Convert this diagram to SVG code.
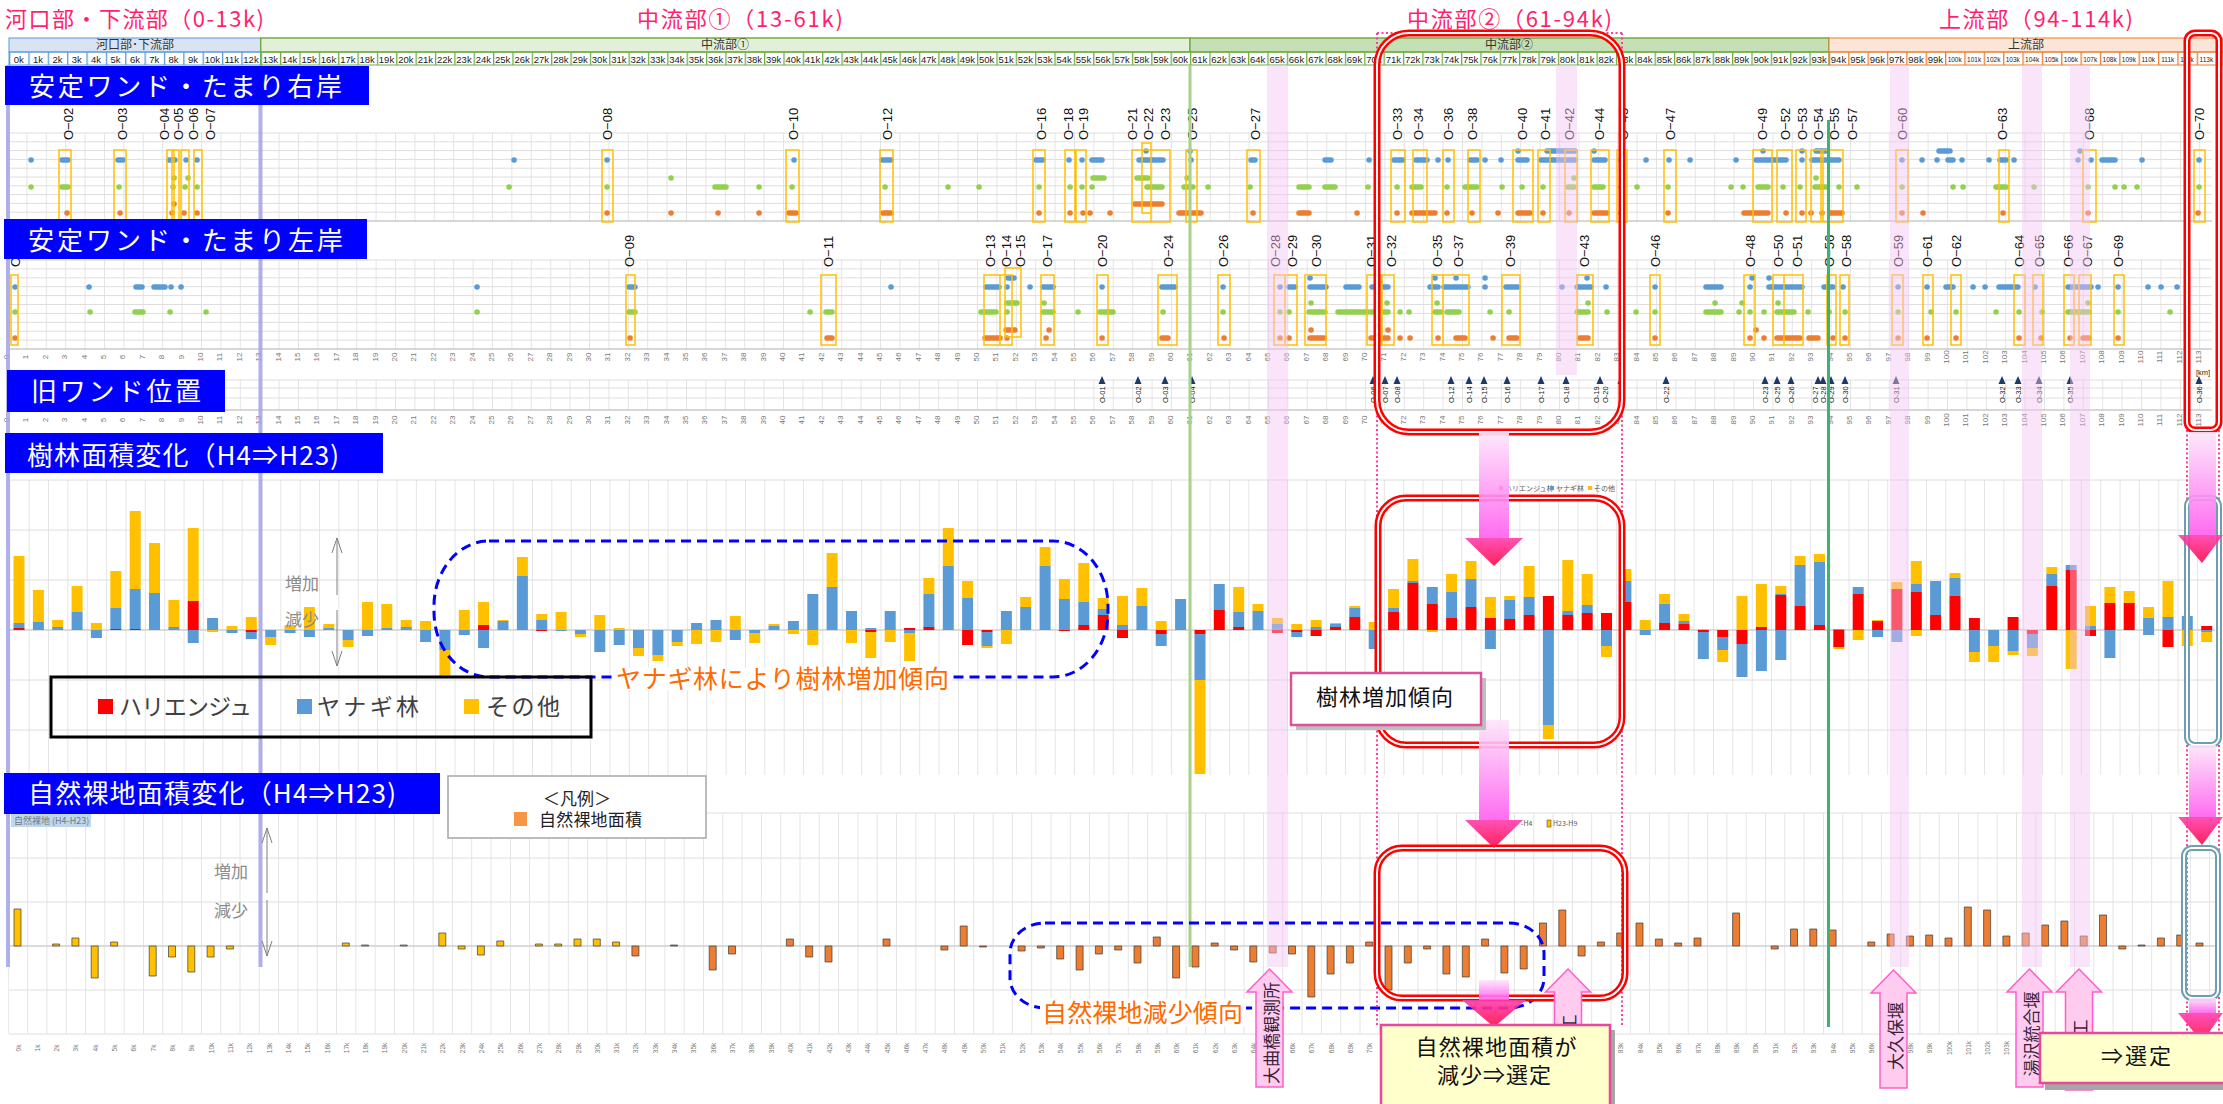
<svg xmlns="http://www.w3.org/2000/svg" xmlns:xlink="http://www.w3.org/1999/xlink" width="2223" height="1104" viewBox="0 0 2223 1104">
<style>
.j{font-family:"Noto Sans CJK JP","Noto Sans",sans-serif}
.ti{font-size:22px;fill:#ff1f6e}
.bl{font-size:26px;fill:#fff}
.sec{font-size:12px;fill:#333;text-anchor:middle}
.kl{font-family:"Liberation Sans",sans-serif;font-size:9.5px;fill:#222;text-anchor:middle}
.ks{font-family:"Liberation Sans",sans-serif;font-size:6.5px;fill:#222;text-anchor:middle}
.ol{font-family:"Liberation Sans",sans-serif;font-size:13px;fill:#111}
.o3{font-family:"Liberation Sans",sans-serif;font-size:7.5px;fill:#222}
.n3{font-family:"Liberation Sans",sans-serif;font-size:8px;fill:#777;text-anchor:middle}
.n5{font-family:"Liberation Sans",sans-serif;font-size:6.5px;fill:#777;text-anchor:middle}
.gr{fill:none;stroke:#dedede;stroke-width:1}
.ax{fill:none;stroke:#b0b0b0;stroke-width:1.2}
.dot{fill:none;stroke-linecap:round;stroke-width:5.5}
.box{fill:none;stroke:#ffc000;stroke-width:1.5}
.ud{font-size:17px;fill:#8c8c8c}
.arr{fill:none;stroke:#808080;stroke-width:1}
.band{fill:#f5c4f2;opacity:.45}
.dash{fill:none;stroke:#00f;stroke-width:3;stroke-dasharray:10 6}
.pdot{fill:none;stroke:#ff3d9a;stroke-width:2;stroke-dasharray:2 2.5}
.up{fill:#ffccf0;stroke:#ff5fc8;stroke-width:1.5}
.upt{font-size:17px;fill:#3a1f3a;text-anchor:middle}
.call{font-size:22px;fill:#111;text-anchor:middle}
</style>
<defs>
<pattern id="hb" x="9" y="0" width="19.36" height="20" patternUnits="userSpaceOnUse"><rect width="1.3" height="20" fill="#5b9bd5"/></pattern>
<pattern id="hg" x="9" y="0" width="19.36" height="20" patternUnits="userSpaceOnUse"><rect width="1.3" height="20" fill="#70ad47"/></pattern>
<pattern id="ho" x="9" y="0" width="19.36" height="20" patternUnits="userSpaceOnUse"><rect width="1.3" height="20" fill="#ed7d31"/></pattern>
<pattern id="g12" x="7" y="0" width="19.4" height="20" patternUnits="userSpaceOnUse"><rect width="1" height="20" fill="#e4e4e4"/></pattern>
<pattern id="g4" x="9.3" y="0" width="19.36" height="20" patternUnits="userSpaceOnUse"><rect width="1" height="20" fill="#e4e4e4"/></pattern>
<pattern id="g5" x="7.8" y="0" width="19.31" height="20" patternUnits="userSpaceOnUse"><rect width="1" height="20" fill="#e4e4e4"/></pattern>
<linearGradient id="gs" x1="0" y1="0" x2="0" y2="1"><stop offset="0" stop-color="#fde6fb"/><stop offset="1" stop-color="#ff5ef0"/></linearGradient>
<linearGradient id="gh" x1="0" y1="0" x2="0" y2="1"><stop offset="0" stop-color="#ff3fb0"/><stop offset="1" stop-color="#ff0a48"/></linearGradient>
<rect id="rA" x="1377" y="33" width="245" height="399" rx="32"/>
<rect id="rB" x="1378" y="498" width="244" height="247" rx="28"/>
<rect id="rC" x="1377" y="848" width="248" height="150" rx="25"/>
<rect id="rD" x="2187" y="33" width="32" height="397" rx="8"/>
<rect id="rE" x="2187" y="498" width="32" height="247" rx="8"/>
<rect id="rF" x="2184" y="848" width="34" height="150" rx="8"/>
</defs>
<rect width="2223" height="1104" fill="#fff"/>

<g id="titles" class="j">
<text class="ti" x="5" y="27" textLength="259">河口部・下流部（0-13k)</text>
<text class="ti" x="637" y="27" textLength="206">中流部①（13-61k)</text>
<text class="ti" x="1407" y="27" textLength="205">中流部②（61-94k)</text>
<text class="ti" x="1939" y="27" textLength="194">上流部（94-114k)</text>
</g>

<g id="header">
<rect x="9" y="38" width="251.7" height="14" fill="#dae3f3" stroke="#5b9bd5"/>
<rect x="260.7" y="38" width="929.3" height="14" fill="#e2f0d9" stroke="#70ad47" stroke-width="1.5"/>
<rect x="1190" y="38" width="639" height="14" fill="#c5e0b4" stroke="#70ad47" stroke-width="1.5"/>
<rect x="1829" y="38" width="394" height="14" fill="#fbe5d6" stroke="#ed7d31"/>
<rect x="9" y="52" width="251.7" height="13" fill="url(#hb)" stroke="#5b9bd5"/>
<rect x="260.7" y="52" width="1568.3" height="13" fill="url(#hg)" stroke="#70ad47"/>
<rect x="1829" y="52" width="394" height="13" fill="url(#ho)" stroke="#ed7d31"/>
<g class="j"><text class="sec" x="135" y="49">河口部･下流部</text><text class="sec" x="725" y="49">中流部①</text><text class="sec" x="1509" y="49">中流部②</text><text class="sec" x="2026" y="49">上流部</text></g>
<text class="kl" y="62.5"><tspan x="18.7">0k</tspan><tspan x="38.1">1k</tspan><tspan x="57.4">2k</tspan><tspan x="76.8">3k</tspan><tspan x="96.1">4k</tspan><tspan x="115.5">5k</tspan><tspan x="134.9">6k</tspan><tspan x="154.2">7k</tspan><tspan x="173.6">8k</tspan><tspan x="192.9">9k</tspan><tspan x="212.3">10k</tspan><tspan x="231.7">11k</tspan><tspan x="251">12k</tspan><tspan x="270.4">13k</tspan><tspan x="289.7">14k</tspan><tspan x="309.1">15k</tspan><tspan x="328.5">16k</tspan><tspan x="347.8">17k</tspan><tspan x="367.2">18k</tspan><tspan x="386.5">19k</tspan><tspan x="405.9">20k</tspan><tspan x="425.3">21k</tspan><tspan x="444.6">22k</tspan><tspan x="464">23k</tspan><tspan x="483.3">24k</tspan><tspan x="502.7">25k</tspan><tspan x="522.1">26k</tspan><tspan x="541.4">27k</tspan><tspan x="560.8">28k</tspan><tspan x="580.1">29k</tspan><tspan x="599.5">30k</tspan><tspan x="618.9">31k</tspan><tspan x="638.2">32k</tspan><tspan x="657.6">33k</tspan><tspan x="676.9">34k</tspan><tspan x="696.3">35k</tspan><tspan x="715.7">36k</tspan><tspan x="735">37k</tspan><tspan x="754.4">38k</tspan><tspan x="773.7">39k</tspan><tspan x="793.1">40k</tspan><tspan x="812.5">41k</tspan><tspan x="831.8">42k</tspan><tspan x="851.2">43k</tspan><tspan x="870.5">44k</tspan><tspan x="889.9">45k</tspan><tspan x="909.3">46k</tspan><tspan x="928.6">47k</tspan><tspan x="948">48k</tspan><tspan x="967.3">49k</tspan><tspan x="986.7">50k</tspan><tspan x="1006.1">51k</tspan><tspan x="1025.4">52k</tspan><tspan x="1044.8">53k</tspan><tspan x="1064.1">54k</tspan><tspan x="1083.5">55k</tspan><tspan x="1102.9">56k</tspan><tspan x="1122.2">57k</tspan><tspan x="1141.6">58k</tspan><tspan x="1160.9">59k</tspan><tspan x="1180.3">60k</tspan><tspan x="1199.7">61k</tspan><tspan x="1219">62k</tspan><tspan x="1238.4">63k</tspan><tspan x="1257.7">64k</tspan><tspan x="1277.1">65k</tspan><tspan x="1296.5">66k</tspan><tspan x="1315.8">67k</tspan><tspan x="1335.2">68k</tspan><tspan x="1354.5">69k</tspan><tspan x="1373.9">70k</tspan><tspan x="1393.3">71k</tspan><tspan x="1412.6">72k</tspan><tspan x="1432">73k</tspan><tspan x="1451.3">74k</tspan><tspan x="1470.7">75k</tspan><tspan x="1490.1">76k</tspan><tspan x="1509.4">77k</tspan><tspan x="1528.8">78k</tspan><tspan x="1548.1">79k</tspan><tspan x="1567.5">80k</tspan><tspan x="1586.9">81k</tspan><tspan x="1606.2">82k</tspan><tspan x="1625.6">83k</tspan><tspan x="1644.9">84k</tspan><tspan x="1664.3">85k</tspan><tspan x="1683.7">86k</tspan><tspan x="1703">87k</tspan><tspan x="1722.4">88k</tspan><tspan x="1741.7">89k</tspan><tspan x="1761.1">90k</tspan><tspan x="1780.5">91k</tspan><tspan x="1799.8">92k</tspan><tspan x="1819.2">93k</tspan><tspan x="1838.5">94k</tspan><tspan x="1857.9">95k</tspan><tspan x="1877.3">96k</tspan><tspan x="1896.6">97k</tspan><tspan x="1916">98k</tspan><tspan x="1935.3">99k</tspan></text>
<text class="ks" y="61.5"><tspan x="1954.7">100k</tspan><tspan x="1974.1">101k</tspan><tspan x="1993.4">102k</tspan><tspan x="2012.8">103k</tspan><tspan x="2032.1">104k</tspan><tspan x="2051.5">105k</tspan><tspan x="2070.9">106k</tspan><tspan x="2090.2">107k</tspan><tspan x="2109.6">108k</tspan><tspan x="2128.9">109k</tspan><tspan x="2148.3">110k</tspan><tspan x="2167.7">111k</tspan><tspan x="2187">112k</tspan><tspan x="2206.4">113k</tspan></text>
</g>

<g id="grids">
<rect x="7" y="133" width="2205" height="88" fill="url(#g12)"/>
<path class="gr" d="M9 133H2212M9 141.8H2212M9 150.6H2212M9 159.4H2212M9 168.2H2212M9 177H2212M9 185.8H2212M9 194.6H2212M9 203.4H2212M9 212.2H2212"/>
<path class="ax" d="M9 221H2212"/>
<rect x="7" y="260" width="2205" height="89" fill="url(#g12)"/>
<path class="gr" d="M9 260H2212M9 268.9H2212M9 277.8H2212M9 286.7H2212M9 295.6H2212M9 304.5H2212M9 313.4H2212M9 322.3H2212M9 331.2H2212M9 340.1H2212"/>
<path class="ax" d="M9 349H2212"/>
<rect x="7" y="380" width="2205" height="30" fill="url(#g12)"/>
<path class="gr" d="M9 380H2212M9 388H2212M9 398H2212"/>
<path class="ax" d="M9 410H2212"/>
<rect x="9.3" y="480" width="2205" height="295" fill="url(#g4)"/>
<path class="gr" d="M9 480H2215M9 530H2215M9 580H2215M9 680H2215M9 730H2215"/>
<path d="M9 630H2215" stroke="#cfcfcf" stroke-width="1.5"/>
<rect x="7.8" y="813" width="2210" height="221" fill="url(#g5)"/>
<path class="gr" d="M706 813H2218M9 858H2218M9 902H2218M9 990H2218M9 1034H2218"/>
<path d="M9 946H2218" stroke="#cfcfcf" stroke-width="1.5"/>
</g>

<g id="panel3-axis">
<g id="n3r" transform="rotate(-90)"><text class="n3" dominant-baseline="central"><tspan x="-357" y="6">0</tspan><tspan x="-357" y="25.4">1</tspan><tspan x="-357" y="44.8">2</tspan><tspan x="-357" y="64.2">3</tspan><tspan x="-357" y="83.6">4</tspan><tspan x="-357" y="103">5</tspan><tspan x="-357" y="122.4">6</tspan><tspan x="-357" y="141.8">7</tspan><tspan x="-357" y="161.2">8</tspan><tspan x="-357" y="180.6">9</tspan><tspan x="-357" y="200">10</tspan><tspan x="-357" y="219.4">11</tspan><tspan x="-357" y="238.8">12</tspan><tspan x="-357" y="258.2">13</tspan><tspan x="-357" y="277.6">14</tspan><tspan x="-357" y="297">15</tspan><tspan x="-357" y="316.4">16</tspan><tspan x="-357" y="335.8">17</tspan><tspan x="-357" y="355.2">18</tspan><tspan x="-357" y="374.6">19</tspan><tspan x="-357" y="394">20</tspan><tspan x="-357" y="413.4">21</tspan><tspan x="-357" y="432.8">22</tspan><tspan x="-357" y="452.2">23</tspan><tspan x="-357" y="471.6">24</tspan><tspan x="-357" y="491">25</tspan><tspan x="-357" y="510.4">26</tspan><tspan x="-357" y="529.8">27</tspan><tspan x="-357" y="549.2">28</tspan><tspan x="-357" y="568.6">29</tspan><tspan x="-357" y="588">30</tspan><tspan x="-357" y="607.4">31</tspan><tspan x="-357" y="626.8">32</tspan><tspan x="-357" y="646.2">33</tspan><tspan x="-357" y="665.6">34</tspan><tspan x="-357" y="685">35</tspan><tspan x="-357" y="704.4">36</tspan><tspan x="-357" y="723.8">37</tspan><tspan x="-357" y="743.2">38</tspan><tspan x="-357" y="762.6">39</tspan><tspan x="-357" y="782">40</tspan><tspan x="-357" y="801.4">41</tspan><tspan x="-357" y="820.8">42</tspan><tspan x="-357" y="840.2">43</tspan><tspan x="-357" y="859.6">44</tspan><tspan x="-357" y="879">45</tspan><tspan x="-357" y="898.4">46</tspan><tspan x="-357" y="917.8">47</tspan><tspan x="-357" y="937.2">48</tspan><tspan x="-357" y="956.6">49</tspan><tspan x="-357" y="976">50</tspan><tspan x="-357" y="995.4">51</tspan><tspan x="-357" y="1014.8">52</tspan><tspan x="-357" y="1034.2">53</tspan><tspan x="-357" y="1053.6">54</tspan><tspan x="-357" y="1073">55</tspan><tspan x="-357" y="1092.4">56</tspan><tspan x="-357" y="1111.8">57</tspan><tspan x="-357" y="1131.2">58</tspan><tspan x="-357" y="1150.6">59</tspan><tspan x="-357" y="1170">60</tspan><tspan x="-357" y="1189.4">61</tspan><tspan x="-357" y="1208.8">62</tspan><tspan x="-357" y="1228.2">63</tspan><tspan x="-357" y="1247.6">64</tspan><tspan x="-357" y="1267">65</tspan><tspan x="-357" y="1286.4">66</tspan><tspan x="-357" y="1305.8">67</tspan><tspan x="-357" y="1325.2">68</tspan><tspan x="-357" y="1344.6">69</tspan><tspan x="-357" y="1364">70</tspan><tspan x="-357" y="1383.4">71</tspan><tspan x="-357" y="1402.8">72</tspan><tspan x="-357" y="1422.2">73</tspan><tspan x="-357" y="1441.6">74</tspan><tspan x="-357" y="1461">75</tspan><tspan x="-357" y="1480.4">76</tspan><tspan x="-357" y="1499.8">77</tspan><tspan x="-357" y="1519.2">78</tspan><tspan x="-357" y="1538.6">79</tspan><tspan x="-357" y="1558">80</tspan><tspan x="-357" y="1577.4">81</tspan><tspan x="-357" y="1596.8">82</tspan><tspan x="-357" y="1616.2">83</tspan><tspan x="-357" y="1635.6">84</tspan><tspan x="-357" y="1655">85</tspan><tspan x="-357" y="1674.4">86</tspan><tspan x="-357" y="1693.8">87</tspan><tspan x="-357" y="1713.2">88</tspan><tspan x="-357" y="1732.6">89</tspan><tspan x="-357" y="1752">90</tspan><tspan x="-357" y="1771.4">91</tspan><tspan x="-357" y="1790.8">92</tspan><tspan x="-357" y="1810.2">93</tspan><tspan x="-357" y="1829.6">94</tspan><tspan x="-357" y="1849">95</tspan><tspan x="-357" y="1868.4">96</tspan><tspan x="-357" y="1887.8">97</tspan><tspan x="-357" y="1907.2">98</tspan><tspan x="-357" y="1926.6">99</tspan><tspan x="-357" y="1946">100</tspan><tspan x="-357" y="1965.4">101</tspan><tspan x="-357" y="1984.8">102</tspan><tspan x="-357" y="2004.2">103</tspan><tspan x="-357" y="2023.6">104</tspan><tspan x="-357" y="2043">105</tspan><tspan x="-357" y="2062.4">106</tspan><tspan x="-357" y="2081.8">107</tspan><tspan x="-357" y="2101.2">108</tspan><tspan x="-357" y="2120.6">109</tspan><tspan x="-357" y="2140">110</tspan><tspan x="-357" y="2159.4">111</tspan><tspan x="-357" y="2178.8">112</tspan><tspan x="-357" y="2198.2">113</tspan></text></g>
<use xlink:href="#n3r" href="#n3r" transform="translate(0,63)"/>
<text class="o3" x="2196" y="375">[km]</text>
</g>

<g id="panel1-dots">
<path class="dot" stroke="#5b9bd5" d="M31 160h.1M62 160H68M118 160H123M169 160H175M186 160h.1M197 160h.1M514 160h.1M607 160h.1M794 160h.1M882 160H891M1036 160H1043M1069 160h.1M1082 160h.1M1092 160H1102M1139 160H1163M1191 160h.1M1251 160H1255M1325 160H1331M1369 160h.1M1394 160H1403M1416 160H1427M1438 160h.1M1448 160h.1M1470 160H1477M1485 160h.1M1501 160h.1M1518 160H1527M1541 160H1575M1594 160H1605M1621 160h.1M1646 160h.1M1669 160h.1M1690 160h.1M1736 160h.1M1756 160H1786M1802 160h.1M1812 160H1839M1902 160h.1M1922 160h.1M1937 160h.1M1948 160H1953M1962 160h.1M1989 160h.1M2000 160H2006M2014 160h.1M2078 160h.1M2091 160h.1M2102 160H2115M2142 160h.1M2199 160h.1M1146 151h.1M1190 151h.1M1518 151h.1M1547 151H1575M1594 151h.1M1763 151h.1M1802 151h.1M1816 151H1826M1939 151H1950M2080 151h.1"/>
<path class="dot" stroke="#92d050" d="M31 187h.1M62 187H68M119 187h.1M173 187h.1M185 187h.1M197 187h.1M509 187h.1M607 187h.1M715 187H726M759 187h.1M792 187h.1M885 187h.1M948 187h.1M979 187h.1M1039 187h.1M1070 187h.1M1082 187h.1M1092 187h.1M1147 187H1162M1184 187H1193M1208 187h.1M1250 187h.1M1299 187H1309M1325 187H1335M1368 187h.1M1397 187h.1M1412 187H1421M1447 187h.1M1465 187H1477M1502 187h.1M1522 187h.1M1543 187h.1M1568 187H1574M1594 187H1603M1621 187h.1M1637 187h.1M1668 187h.1M1731 187h.1M1743 187h.1M1758 187H1768M1783 187h.1M1800 187h.1M1815 187H1826M1839 187h.1M1857 187h.1M1902 187h.1M1953 187h.1M1963 187h.1M1996 187H2006M2034 187h.1M2088 187h.1M2115 187h.1M2124 187h.1M2137 187h.1M2199 187h.1M174 178h.1M188 178h.1M671 178h.1M1093 178H1104M1137 178H1148M1187 178h.1M1574 178h.1M1816 178h.1"/>
<path class="dot" stroke="#ed7d31" d="M67 213h.1M120 213h.1M172 213h.1M184 213h.1M197 213h.1M607 213h.1M671 213h.1M718 213h.1M759 213h.1M789 213H796M883 213H891M1039 213h.1M1070 213h.1M1083 213h.1M1090 213h.1M1110 213h.1M1179 213H1201M1253 213h.1M1299 213H1309M1357 213h.1M1397 213h.1M1412 213H1435M1447 213h.1M1472 213h.1M1498 213h.1M1518 213H1530M1543 213h.1M1569 213h.1M1594 213H1607M1621 213h.1M1668 213h.1M1744 213H1768M1786 213h.1M1802 213h.1M1811 213h.1M1822 213h.1M1830 213H1842M1902 213h.1M1923 213h.1M2003 213h.1M2088 213h.1M2198 213h.1M174 204h.1M1135 204H1162"/>
<path class="box" d="M59 150H71V222H59ZM114 150H126V222H114ZM167 150H174V222H167ZM172 150H179V222H172ZM181 150H189V222H181ZM194 150H202V222H194ZM602 150H613V222H602ZM786 150H799V222H786ZM880 150H893V222H880ZM1033 150H1045V222H1033ZM1065 150H1075V222H1065ZM1076 150H1086V222H1076ZM1132 150H1151V222H1132ZM1142 143H1151V213H1142ZM1151 150H1170V222H1151ZM1186 150H1197V222H1186ZM1247 150H1260V222H1247ZM1391 150H1405V222H1391ZM1413 150H1427V222H1413ZM1443 150H1454V222H1443ZM1468 150H1480V222H1468ZM1513 150H1533V222H1513ZM1538 150H1550V222H1538ZM1565 150H1577V222H1565ZM1591 150H1609V222H1591ZM1617 150H1627V222H1617ZM1664 150H1676V222H1664ZM1753 150H1772V222H1753ZM1777 150H1792V222H1777ZM1796 150H1806V222H1796ZM1811 150H1821V222H1811ZM1823 150H1843V222H1823ZM1896 150H1908V222H1896ZM1999 150H2009V222H1999ZM2083 150H2096V222H2083ZM2194 150H2205V222H2194Z"/>
<g transform="rotate(-90)"><text class="ol" dominant-baseline="central"><tspan x="-140" y="68">O−02</tspan><tspan x="-140" y="122">O−03</tspan><tspan x="-140" y="164">O−04</tspan><tspan x="-140" y="178">O−05</tspan><tspan x="-140" y="193">O−06</tspan><tspan x="-140" y="210">O−07</tspan><tspan x="-140" y="607">O−08</tspan><tspan x="-140" y="793">O−10</tspan><tspan x="-140" y="887">O−12</tspan><tspan x="-140" y="1041">O−16</tspan><tspan x="-140" y="1068">O−18</tspan><tspan x="-140" y="1083">O−19</tspan><tspan x="-140" y="1132">O−21</tspan><tspan x="-140" y="1148">O−22</tspan><tspan x="-140" y="1165">O−23</tspan><tspan x="-140" y="1192">O−25</tspan><tspan x="-140" y="1255">O−27</tspan><tspan x="-140" y="1397">O−33</tspan><tspan x="-140" y="1418">O−34</tspan><tspan x="-140" y="1448">O−36</tspan><tspan x="-140" y="1472">O−38</tspan><tspan x="-140" y="1522">O−40</tspan><tspan x="-140" y="1545">O−41</tspan><tspan x="-140" y="1569">O−42</tspan><tspan x="-140" y="1599">O−44</tspan><tspan x="-140" y="1623">O−45</tspan><tspan x="-140" y="1670">O−47</tspan><tspan x="-140" y="1762">O−49</tspan><tspan x="-140" y="1785">O−52</tspan><tspan x="-140" y="1802">O−53</tspan><tspan x="-140" y="1818">O−54</tspan><tspan x="-140" y="1834">O−55</tspan><tspan x="-140" y="1852">O−57</tspan><tspan x="-140" y="1902">O−60</tspan><tspan x="-140" y="2002">O−63</tspan><tspan x="-140" y="2089">O−68</tspan><tspan x="-140" y="2199">O−70</tspan></text></g>
</g>

<g id="panel2-dots">
<path class="dot" stroke="#5b9bd5" d="M15 287h.1M89 287h.1M136 287H142M154 287H165M171 287h.1M181 287h.1M477 287h.1M629 287H635M891 287h.1M986 287H999M1007 287h.1M1030 287h.1M1043 287H1053M1102 287h.1M1162 287H1175M1223 287h.1M1280 287h.1M1289 287H1295M1310 287H1326M1346 287H1359M1372 287H1388M1430 287H1438M1444 287H1468M1485 287h.1M1506 287H1518M1562 287h.1M1577 287H1591M1606 287h.1M1655 287h.1M1706 287H1721M1750 287h.1M1769 287H1802M1824 287H1833M1843 287h.1M1898 287h.1M1927 287h.1M1946 287H1953M1973 287h.1M1985 287h.1M1999 287H2018M2035 287h.1M2068 287H2091M2098 287h.1M2118 287h.1M2148 287h.1M2161 287h.1M2177 287h.1M1008 278H1014M1310 278h.1M1378 278h.1M1435 278h.1M1456 278h.1M1485 278h.1M1587 278h.1M1752 278h.1M1769 278h.1"/>
<path class="dot" stroke="#92d050" d="M15 312h.1M90 312h.1M135 312H143M170 312h.1M206 312h.1M477 312h.1M629 312H635M810 312h.1M826 312H832M981 312H996M1007 312h.1M1043 312H1053M1078 312h.1M1100 312H1113M1163 312h.1M1223 312h.1M1280 312h.1M1289 312h.1M1309 312H1325M1338 312H1368M1371 312H1388M1400 312h.1M1409 312h.1M1435 312H1441M1447 312H1459M1490 312h.1M1509 312h.1M1577 312H1588M1607 312h.1M1636 312h.1M1655 312h.1M1706 312H1721M1739 312h.1M1750 312h.1M1764 312h.1M1777 312H1794M1808 312h.1M1829 312h.1M1845 312h.1M1898 312h.1M1931 312h.1M1956 312h.1M1996 312h.1M2019 312h.1M2042 312h.1M2068 312H2089M2118 312h.1M2170 312h.1M1007 303H1017M1044 303h.1M1311 303h.1M1387 303h.1M1437 303h.1M1588 303h.1M1715 303h.1M1742 303h.1M1778 303h.1M2088 303h.1"/>
<path class="dot" stroke="#ed7d31" d="M15 338h.1M630 338h.1M827 338H832M985 338H1000M1007 338h.1M1046 338h.1M1102 338h.1M1162 338H1168M1224 338h.1M1280 338h.1M1289 338h.1M1310 338H1324M1371 338H1388M1400 338h.1M1410 338h.1M1438 338h.1M1456 338H1465M1493 338h.1M1509 338H1517M1580 338H1588M1655 338h.1M1750 338h.1M1764 338h.1M1777 338H1800M1809 338H1818M1833 338h.1M1845 338h.1M1898 338h.1M1927 338h.1M1956 338h.1M2019 338h.1M2041 338h.1M2070 338h.1M2083 338H2089M2118 338h.1M1006 330H1015M1049 330h.1M1311 330h.1M1388 330h.1M1756 330h.1"/>
<path class="box" d="M11 275H18V345H11ZM626 275H635V345H626ZM821 275H836V345H821ZM984 275H1000V345H984ZM1000 275H1012V345H1000ZM1005 268H1021V337H1005ZM1041 275H1054V345H1041ZM1097 275H1108V345H1097ZM1158 275H1177V345H1158ZM1218 275H1230V345H1218ZM1274 275H1285V345H1274ZM1285 275H1297V345H1285ZM1305 275H1326V345H1305ZM1367 275H1382V345H1367ZM1381 275H1394V345H1381ZM1432 275H1443V345H1432ZM1443 275H1469V345H1443ZM1502 275H1520V345H1502ZM1577 275H1593V345H1577ZM1650 275H1660V345H1650ZM1744 275H1755V345H1744ZM1773 275H1784V345H1773ZM1784 275H1803V345H1784ZM1827 275H1836V345H1827ZM1840 275H1849V345H1840ZM1892 275H1903V345H1892ZM1923 275H1933V345H1923ZM1951 275H1961V345H1951ZM2014 275H2025V345H2014ZM2033 275H2043V345H2033ZM2064 275H2074V345H2064ZM2079 275H2091V345H2079ZM2114 275H2124V345H2114Z"/>
<g transform="rotate(-90)"><text class="ol" dominant-baseline="central"><tspan x="-267" y="15">O−01</tspan><tspan x="-267" y="629">O−09</tspan><tspan x="-267" y="828">O−11</tspan><tspan x="-267" y="990">O−13</tspan><tspan x="-267" y="1006">O−14</tspan><tspan x="-267" y="1020">O−15</tspan><tspan x="-267" y="1047">O−17</tspan><tspan x="-267" y="1102">O−20</tspan><tspan x="-267" y="1168">O−24</tspan><tspan x="-267" y="1223">O−26</tspan><tspan x="-267" y="1275">O−28</tspan><tspan x="-267" y="1292">O−29</tspan><tspan x="-267" y="1316">O−30</tspan><tspan x="-267" y="1371">O−31</tspan><tspan x="-267" y="1391">O−32</tspan><tspan x="-267" y="1437">O−35</tspan><tspan x="-267" y="1458">O−37</tspan><tspan x="-267" y="1510">O−39</tspan><tspan x="-267" y="1584">O−43</tspan><tspan x="-267" y="1655">O−46</tspan><tspan x="-267" y="1750">O−48</tspan><tspan x="-267" y="1778">O−50</tspan><tspan x="-267" y="1797">O−51</tspan><tspan x="-267" y="1829">O−56</tspan><tspan x="-267" y="1846">O−58</tspan><tspan x="-267" y="1898">O−59</tspan><tspan x="-267" y="1927">O−61</tspan><tspan x="-267" y="1956">O−62</tspan><tspan x="-267" y="2019">O−64</tspan><tspan x="-267" y="2039">O−65</tspan><tspan x="-267" y="2068">O−66</tspan><tspan x="-267" y="2087">O−67</tspan><tspan x="-267" y="2118">O−69</tspan></text></g>
</g>

<g id="panel3-old">
<path fill="#1f3864" d="M1098.5 384l3.5-8l3.5 8zM1134.5 384l3.5-8l3.5 8zM1161.5 384l3.5-8l3.5 8zM1188.5 384l3.5-8l3.5 8zM1369.5 384l3.5-8l3.5 8zM1381.5 384l3.5-8l3.5 8zM1393.5 384l3.5-8l3.5 8zM1447.5 384l3.5-8l3.5 8zM1465.5 384l3.5-8l3.5 8zM1480.5 384l3.5-8l3.5 8zM1503.5 384l3.5-8l3.5 8zM1537.5 384l3.5-8l3.5 8zM1562.5 384l3.5-8l3.5 8zM1596.5 384l3.5-8l3.5 8zM1617.5 384l3.5-8l3.5 8zM1662.5 384l3.5-8l3.5 8zM1761.5 384l3.5-8l3.5 8zM1773.5 384l3.5-8l3.5 8zM1787.5 384l3.5-8l3.5 8zM1814.5 384l3.5-8l3.5 8zM1819.5 384l3.5-8l3.5 8zM1827.5 384l3.5-8l3.5 8zM1841.5 384l3.5-8l3.5 8zM1892.5 384l3.5-8l3.5 8zM1998.5 384l3.5-8l3.5 8zM2014.5 384l3.5-8l3.5 8zM2035.5 384l3.5-8l3.5 8zM2066.5 384l3.5-8l3.5 8zM2195.5 384l3.5-8l3.5 8z"/>
<g transform="rotate(-90)"><text class="o3" dominant-baseline="central"><tspan x="-403" y="1102">O-01</tspan><tspan x="-403" y="1138">O-02</tspan><tspan x="-403" y="1165">O-03</tspan><tspan x="-403" y="1192">O-04</tspan><tspan x="-403" y="1373">O-06</tspan><tspan x="-403" y="1385">O-07</tspan><tspan x="-403" y="1397">O-08</tspan><tspan x="-403" y="1451">O-12</tspan><tspan x="-403" y="1469">O-14</tspan><tspan x="-403" y="1484">O-15</tspan><tspan x="-403" y="1507">O-16</tspan><tspan x="-403" y="1541">O-17</tspan><tspan x="-403" y="1566">O-18</tspan><tspan x="-403" y="1596">O-19</tspan><tspan x="-403" y="1605">O-20</tspan><tspan x="-403" y="1621">O-21</tspan><tspan x="-403" y="1666">O-22</tspan><tspan x="-403" y="1765">O-23</tspan><tspan x="-403" y="1777">O-25</tspan><tspan x="-403" y="1791">O-26</tspan><tspan x="-403" y="1815">O-27</tspan><tspan x="-403" y="1823">O-28</tspan><tspan x="-403" y="1831">O-29</tspan><tspan x="-403" y="1845">O-30</tspan><tspan x="-403" y="1896">O-31</tspan><tspan x="-403" y="2002">O-32</tspan><tspan x="-403" y="2018">O-33</tspan><tspan x="-403" y="2039">O-34</tspan><tspan x="-403" y="2070">O-35</tspan><tspan x="-403" y="2199">O-36</tspan></text></g>
</g>

<g id="panel4-bars">
<path fill="#ff0000" d="M13.5 628h11v2h-11zM110.3 629h11v1h-11zM129.7 629h11v1h-11zM187.7 601h11v29h-11zM478.1 625h11v5h-11zM904.1 628h11v2h-11zM923.4 627h11v3h-11zM1078.3 625h11v5h-11zM1097.7 615h11v15h-11zM1213.8 610h11v20h-11zM1233.2 627h11v3h-11zM1330 627h11v3h-11zM1349.3 617h11v13h-11zM1388.1 612h11v18h-11zM1407.4 583h11v47h-11zM1426.8 604h11v26h-11zM1446.1 618h11v12h-11zM1465.5 607h11v23h-11zM1484.9 618h11v12h-11zM1504.2 619h11v11h-11zM1523.6 615h11v15h-11zM1542.9 596h11v34h-11zM1562.3 615h11v15h-11zM1581.7 613h11v17h-11zM1601 613h11v17h-11zM1620.4 602h11v28h-11zM1659.1 623h11v7h-11zM1678.5 624h11v6h-11zM1755.9 627h11v3h-11zM1775.3 595h11v35h-11zM1794.6 606h11v24h-11zM1814 625h11v5h-11zM1852.7 594h11v36h-11zM1872.1 621h11v9h-11zM1891.4 589h11v41h-11zM1910.8 592h11v38h-11zM1930.1 615h11v15h-11zM1949.5 596h11v34h-11zM1968.9 618h11v12h-11zM2007.6 617h11v13h-11zM2046.3 586h11v44h-11zM2065.7 570h11v60h-11zM2104.4 603h11v27h-11zM2123.7 603h11v27h-11zM2201.2 626h11v4h-11zM245.8 630h11v2h-11zM536.2 630h11v1h-11zM865.3 630h11v2h-11zM962.1 630h11v15h-11zM981.5 630h11v2h-11zM1058.9 630h11v1h-11zM1117 630h11v8h-11zM1155.7 630h11v4h-11zM1194.5 630h11v4h-11zM1271.9 630h11v3h-11zM1291.3 630h11v2h-11zM1310.6 630h11v6h-11zM1697.8 630h11v2h-11zM1717.2 630h11v7h-11zM1736.5 630h11v14h-11zM1833.3 630h11v17h-11zM2026.9 630h11v4h-11zM2085 630h11v6h-11zM2162.5 630h11v17h-11z"/>
<path fill="#5b9bd5" d="M13.5 623h11v5h-11zM32.9 622h11v8h-11zM52.2 627h11v3h-11zM71.6 612h11v18h-11zM110.3 608h11v21h-11zM129.7 589h11v40h-11zM149 593h11v37h-11zM168.4 627h11v3h-11zM207.1 618h11v12h-11zM323.3 628h11v2h-11zM381.3 628h11v2h-11zM400.7 627h11v3h-11zM497.5 621h11v9h-11zM516.9 576h11v54h-11zM536.2 620h11v10h-11zM691.1 623h11v7h-11zM710.5 620h11v10h-11zM768.5 626h11v4h-11zM787.9 621h11v9h-11zM807.3 594h11v36h-11zM826.6 587h11v43h-11zM846 611h11v19h-11zM865.3 628h11v2h-11zM884.7 611h11v19h-11zM923.4 594h11v33h-11zM942.8 566h11v64h-11zM962.1 598h11v32h-11zM1000.9 611h11v19h-11zM1020.2 607h11v23h-11zM1039.6 566h11v64h-11zM1058.9 599h11v31h-11zM1078.3 602h11v23h-11zM1097.7 609h11v6h-11zM1117 625h11v5h-11zM1136.4 606h11v24h-11zM1175.1 599h11v31h-11zM1213.8 584h11v26h-11zM1233.2 612h11v15h-11zM1252.5 611h11v19h-11zM1271.9 624h11v6h-11zM1310.6 627h11v3h-11zM1330 624h11v3h-11zM1349.3 608h11v9h-11zM1388.1 608h11v4h-11zM1407.4 581h11v2h-11zM1426.8 587h11v17h-11zM1446.1 592h11v26h-11zM1465.5 579h11v28h-11zM1504.2 600h11v19h-11zM1523.6 597h11v18h-11zM1562.3 611h11v4h-11zM1581.7 605h11v8h-11zM1620.4 581h11v21h-11zM1659.1 604h11v19h-11zM1678.5 621h11v3h-11zM1775.3 594h11v1h-11zM1794.6 565h11v41h-11zM1814 562h11v63h-11zM1833.3 629h11v1h-11zM1852.7 587h11v7h-11zM1910.8 584h11v8h-11zM1930.1 581h11v34h-11zM1949.5 578h11v18h-11zM2046.3 574h11v12h-11zM2065.7 565h11v5h-11zM2085 626h11v4h-11zM2143.1 618h11v12h-11zM2162.5 617h11v13h-11zM2181.8 616h11v14h-11zM90.9 630h11v8h-11zM187.7 630h11v13h-11zM226.5 630h11v3h-11zM245.8 632h11v7h-11zM265.2 630h11v7h-11zM284.5 630h11v3h-11zM303.9 630h11v7h-11zM342.6 630h11v10h-11zM362 630h11v6h-11zM420.1 630h11v12h-11zM439.4 630h11v20h-11zM458.8 630h11v5h-11zM478.1 630h11v18h-11zM555.6 630h11v1h-11zM574.9 630h11v4h-11zM594.3 630h11v22h-11zM613.7 630h11v15h-11zM633 630h11v18h-11zM652.4 630h11v25h-11zM671.7 630h11v12h-11zM729.8 630h11v10h-11zM749.2 630h11v3h-11zM904.1 630h11v3h-11zM981.5 632h11v14h-11zM1155.7 634h11v12h-11zM1194.5 634h11v46h-11zM1291.3 632h11v5h-11zM1368.7 630h11v19h-11zM1484.9 630h11v19h-11zM1542.9 630h11v95h-11zM1601 630h11v16h-11zM1639.7 630h11v5h-11zM1697.8 632h11v27h-11zM1717.2 637h11v13h-11zM1736.5 644h11v33h-11zM1755.9 630h11v41h-11zM1775.3 630h11v30h-11zM1872.1 630h11v7h-11zM1891.4 630h11v12h-11zM1968.9 630h11v22h-11zM1988.2 630h11v16h-11zM2007.6 630h11v21h-11zM2026.9 634h11v14h-11zM2104.4 630h11v28h-11zM2143.1 630h11v5h-11zM2201.2 630h11v2h-11z"/>
<path fill="#ffc000" d="M13.5 556h11v67h-11zM32.9 590h11v32h-11zM52.2 620h11v7h-11zM71.6 586h11v26h-11zM90.9 623h11v7h-11zM110.3 571h11v37h-11zM129.7 511h11v78h-11zM149 543h11v50h-11zM168.4 600h11v27h-11zM187.7 528h11v73h-11zM226.5 626h11v4h-11zM245.8 617h11v13h-11zM284.5 625h11v5h-11zM303.9 607h11v23h-11zM323.3 624h11v4h-11zM362 602h11v28h-11zM381.3 604h11v24h-11zM400.7 620h11v7h-11zM420.1 621h11v9h-11zM458.8 610h11v20h-11zM478.1 602h11v23h-11zM497.5 620h11v1h-11zM516.9 557h11v19h-11zM536.2 614h11v6h-11zM555.6 612h11v18h-11zM594.3 615h11v15h-11zM613.7 628h11v2h-11zM729.8 616h11v14h-11zM768.5 624h11v2h-11zM826.6 553h11v34h-11zM923.4 578h11v16h-11zM942.8 528h11v38h-11zM962.1 581h11v17h-11zM1020.2 597h11v10h-11zM1039.6 547h11v19h-11zM1058.9 579h11v20h-11zM1078.3 563h11v39h-11zM1097.7 598h11v11h-11zM1117 596h11v29h-11zM1136.4 588h11v18h-11zM1155.7 621h11v9h-11zM1233.2 587h11v25h-11zM1252.5 604h11v7h-11zM1271.9 618h11v6h-11zM1291.3 624h11v6h-11zM1310.6 620h11v7h-11zM1330 623h11v1h-11zM1349.3 606h11v2h-11zM1368.7 622h11v8h-11zM1388.1 589h11v19h-11zM1407.4 559h11v22h-11zM1446.1 574h11v18h-11zM1465.5 561h11v18h-11zM1484.9 597h11v21h-11zM1504.2 596h11v4h-11zM1523.6 566h11v31h-11zM1562.3 560h11v51h-11zM1581.7 574h11v31h-11zM1620.4 569h11v12h-11zM1639.7 620h11v10h-11zM1659.1 594h11v10h-11zM1678.5 614h11v7h-11zM1697.8 629h11v1h-11zM1736.5 596h11v34h-11zM1755.9 584h11v43h-11zM1775.3 586h11v8h-11zM1794.6 556h11v9h-11zM1814 554h11v8h-11zM1872.1 620h11v1h-11zM1891.4 582h11v7h-11zM1910.8 561h11v23h-11zM1949.5 573h11v5h-11zM2046.3 567h11v7h-11zM2085 606h11v20h-11zM2104.4 587h11v16h-11zM2123.7 591h11v12h-11zM2143.1 607h11v11h-11zM2162.5 581h11v36h-11zM207.1 630h11v2h-11zM265.2 637h11v8h-11zM342.6 640h11v7h-11zM439.4 650h11v26h-11zM574.9 634h11v3h-11zM633 648h11v8h-11zM652.4 655h11v6h-11zM671.7 642h11v4h-11zM691.1 630h11v14h-11zM710.5 630h11v12h-11zM749.2 633h11v10h-11zM787.9 630h11v4h-11zM807.3 630h11v15h-11zM846 630h11v13h-11zM865.3 632h11v26h-11zM884.7 630h11v12h-11zM904.1 633h11v28h-11zM981.5 646h11v2h-11zM1000.9 630h11v14h-11zM1194.5 680h11v94h-11zM1426.8 630h11v2h-11zM1542.9 725h11v14h-11zM1601 646h11v11h-11zM1717.2 650h11v12h-11zM1833.3 647h11v2h-11zM1852.7 630h11v10h-11zM1910.8 630h11v6h-11zM1968.9 652h11v10h-11zM1988.2 646h11v16h-11zM2007.6 651h11v4h-11zM2026.9 648h11v8h-11zM2065.7 630h11v39h-11zM2181.8 630h11v16h-11zM2201.2 632h11v10h-11z"/>
<g class="j" font-size="7" fill="#595959"><rect x="1499" y="486" width="4" height="4" fill="#ff0000"/><text x="1505" y="491">ハリエンジュ林</text><rect x="1550" y="486" width="4" height="4" fill="#5b9bd5"/><text x="1556" y="491">ヤナギ林</text><rect x="1588" y="486" width="4" height="4" fill="#ffc000"/><text x="1594" y="491">その他</text></g>
</g>

<g id="panel5-bars" stroke="#3a3a3a" stroke-width=".7">
<path fill="#ffc000" d="M14 909h7v37h-7zM52.6 944h7v2h-7zM71.9 938h7v8h-7zM91.2 946h7v32h-7zM110.6 942h7v4h-7zM149.2 946h7v30h-7zM168.5 946h7v11h-7zM187.8 946h7v26h-7zM207.1 946h7v11h-7zM226.4 946h7v3h-7zM342.3 943h7v3h-7zM361.6 945h7v1h-7zM400.2 945h7v1h-7zM438.8 933h7v13h-7zM458.1 946h7v3h-7zM477.4 946h7v9h-7zM496.8 941h7v5h-7zM535.4 944h7v2h-7zM554.7 944h7v2h-7zM574 939h7v7h-7zM593.3 939h7v7h-7zM612.6 942h7v4h-7z"/>
<path fill="#ed7d31" d="M631.9 946h7v10h-7zM670.5 945h7v1h-7zM709.2 946h7v24h-7zM728.5 946h7v8h-7zM786.4 939h7v7h-7zM805.7 946h7v11h-7zM825 946h7v16h-7zM883 939h7v7h-7zM940.9 946h7v4h-7zM960.2 926h7v20h-7zM979.5 946h7v1h-7zM1018.1 946h7v5h-7zM1037.4 946h7v2h-7zM1056.7 946h7v13h-7zM1076.1 946h7v24h-7zM1095.4 946h7v8h-7zM1114.7 946h7v4h-7zM1134 946h7v17h-7zM1153.3 937h7v9h-7zM1172.6 946h7v32h-7zM1191.9 946h7v21h-7zM1211.2 943h7v3h-7zM1230.5 946h7v4h-7zM1249.8 946h7v16h-7zM1269.2 946h7v7h-7zM1288.5 946h7v8h-7zM1307.8 946h7v51h-7zM1327.1 946h7v28h-7zM1346.4 946h7v17h-7zM1365.7 942h7v4h-7zM1385 946h7v44h-7zM1404.3 946h7v17h-7zM1423.6 946h7v3h-7zM1442.9 946h7v28h-7zM1462.3 946h7v31h-7zM1481.6 939h7v7h-7zM1500.9 946h7v27h-7zM1520.2 946h7v23h-7zM1539.5 923h7v23h-7zM1558.8 910h7v36h-7zM1578.1 946h7v10h-7zM1597.4 942h7v4h-7zM1616.7 933h7v13h-7zM1636 923h7v23h-7zM1655.4 939h7v7h-7zM1674.7 943h7v3h-7zM1694 938h7v8h-7zM1732.6 913h7v33h-7zM1771.2 946h7v3h-7zM1790.5 929h7v17h-7zM1809.8 929h7v17h-7zM1829.1 930h7v16h-7zM1867.8 942h7v4h-7zM1887.1 934h7v12h-7zM1906.4 936h7v10h-7zM1925.7 935h7v11h-7zM1945 938h7v8h-7zM1964.3 907h7v39h-7zM1983.6 910h7v36h-7zM2002.9 936h7v10h-7zM2022.2 933h7v13h-7zM2041.6 925h7v21h-7zM2060.9 921h7v25h-7zM2080.2 936h7v10h-7zM2099.5 915h7v31h-7zM2118.8 946h7v3h-7zM2138.1 945h7v1h-7zM2157.4 938h7v8h-7zM2176.7 935h7v11h-7zM2196 943h7v3h-7z"/>
</g>
<g id="panel5-axis" transform="rotate(-90)"><text class="n5" dominant-baseline="central"><tspan x="-1048" y="17.5">0k</tspan><tspan x="-1048" y="36.8">1k</tspan><tspan x="-1048" y="56.1">2k</tspan><tspan x="-1048" y="75.4">3k</tspan><tspan x="-1048" y="94.7">4k</tspan><tspan x="-1048" y="114.1">5k</tspan><tspan x="-1048" y="133.4">6k</tspan><tspan x="-1048" y="152.7">7k</tspan><tspan x="-1048" y="172">8k</tspan><tspan x="-1048" y="191.3">9k</tspan><tspan x="-1048" y="210.6">10k</tspan><tspan x="-1048" y="229.9">11k</tspan><tspan x="-1048" y="249.2">12k</tspan><tspan x="-1048" y="268.5">13k</tspan><tspan x="-1048" y="287.8">14k</tspan><tspan x="-1048" y="307.2">15k</tspan><tspan x="-1048" y="326.5">16k</tspan><tspan x="-1048" y="345.8">17k</tspan><tspan x="-1048" y="365.1">18k</tspan><tspan x="-1048" y="384.4">19k</tspan><tspan x="-1048" y="403.7">20k</tspan><tspan x="-1048" y="423">21k</tspan><tspan x="-1048" y="442.3">22k</tspan><tspan x="-1048" y="461.6">23k</tspan><tspan x="-1048" y="480.9">24k</tspan><tspan x="-1048" y="500.3">25k</tspan><tspan x="-1048" y="519.6">26k</tspan><tspan x="-1048" y="538.9">27k</tspan><tspan x="-1048" y="558.2">28k</tspan><tspan x="-1048" y="577.5">29k</tspan><tspan x="-1048" y="596.8">30k</tspan><tspan x="-1048" y="616.1">31k</tspan><tspan x="-1048" y="635.4">32k</tspan><tspan x="-1048" y="654.7">33k</tspan><tspan x="-1048" y="674">34k</tspan><tspan x="-1048" y="693.4">35k</tspan><tspan x="-1048" y="712.7">36k</tspan><tspan x="-1048" y="732">37k</tspan><tspan x="-1048" y="751.3">38k</tspan><tspan x="-1048" y="770.6">39k</tspan><tspan x="-1048" y="789.9">40k</tspan><tspan x="-1048" y="809.2">41k</tspan><tspan x="-1048" y="828.5">42k</tspan><tspan x="-1048" y="847.8">43k</tspan><tspan x="-1048" y="867.1">44k</tspan><tspan x="-1048" y="886.5">45k</tspan><tspan x="-1048" y="905.8">46k</tspan><tspan x="-1048" y="925.1">47k</tspan><tspan x="-1048" y="944.4">48k</tspan><tspan x="-1048" y="963.7">49k</tspan><tspan x="-1048" y="983">50k</tspan><tspan x="-1048" y="1002.3">51k</tspan><tspan x="-1048" y="1021.6">52k</tspan><tspan x="-1048" y="1040.9">53k</tspan><tspan x="-1048" y="1060.2">54k</tspan><tspan x="-1048" y="1079.6">55k</tspan><tspan x="-1048" y="1098.9">56k</tspan><tspan x="-1048" y="1118.2">57k</tspan><tspan x="-1048" y="1137.5">58k</tspan><tspan x="-1048" y="1156.8">59k</tspan><tspan x="-1048" y="1176.1">60k</tspan><tspan x="-1048" y="1195.4">61k</tspan><tspan x="-1048" y="1214.7">62k</tspan><tspan x="-1048" y="1234">63k</tspan><tspan x="-1048" y="1253.3">64k</tspan><tspan x="-1048" y="1272.7">65k</tspan><tspan x="-1048" y="1292">66k</tspan><tspan x="-1048" y="1311.3">67k</tspan><tspan x="-1048" y="1330.6">68k</tspan><tspan x="-1048" y="1349.9">69k</tspan><tspan x="-1048" y="1369.2">70k</tspan><tspan x="-1048" y="1388.5">71k</tspan><tspan x="-1048" y="1407.8">72k</tspan><tspan x="-1048" y="1427.1">73k</tspan><tspan x="-1048" y="1446.4">74k</tspan><tspan x="-1048" y="1465.8">75k</tspan><tspan x="-1048" y="1485.1">76k</tspan><tspan x="-1048" y="1504.4">77k</tspan><tspan x="-1048" y="1523.7">78k</tspan><tspan x="-1048" y="1543">79k</tspan><tspan x="-1048" y="1562.3">80k</tspan><tspan x="-1048" y="1581.6">81k</tspan><tspan x="-1048" y="1600.9">82k</tspan><tspan x="-1048" y="1620.2">83k</tspan><tspan x="-1048" y="1639.5">84k</tspan><tspan x="-1048" y="1658.9">85k</tspan><tspan x="-1048" y="1678.2">86k</tspan><tspan x="-1048" y="1697.5">87k</tspan><tspan x="-1048" y="1716.8">88k</tspan><tspan x="-1048" y="1736.1">89k</tspan><tspan x="-1048" y="1755.4">90k</tspan><tspan x="-1048" y="1774.7">91k</tspan><tspan x="-1048" y="1794">92k</tspan><tspan x="-1048" y="1813.3">93k</tspan><tspan x="-1048" y="1832.6">94k</tspan><tspan x="-1048" y="1852">95k</tspan><tspan x="-1048" y="1871.3">96k</tspan><tspan x="-1048" y="1890.6">97k</tspan><tspan x="-1048" y="1909.9">98k</tspan><tspan x="-1048" y="1929.2">99k</tspan><tspan x="-1048" y="1948.5">100k</tspan><tspan x="-1048" y="1967.8">101k</tspan><tspan x="-1048" y="1987.1">102k</tspan><tspan x="-1048" y="2006.4">103k</tspan><tspan x="-1048" y="2025.7">104k</tspan><tspan x="-1048" y="2045.1">105k</tspan><tspan x="-1048" y="2064.4">106k</tspan><tspan x="-1048" y="2083.7">107k</tspan><tspan x="-1048" y="2103">108k</tspan><tspan x="-1048" y="2122.3">109k</tspan><tspan x="-1048" y="2141.6">110k</tspan><tspan x="-1048" y="2160.9">111k</tspan><tspan x="-1048" y="2180.2">112k</tspan><tspan x="-1048" y="2199.5">113k</tspan></text></g>
<g class="j" font-size="7" fill="#595959"><text x="1521" y="826">-H4</text><rect x="1547" y="820" width="4" height="7" fill="#ffc000" stroke="#333" stroke-width=".5"/><text x="1553" y="826">H23-H9</text></g>

<g id="bands">
<rect class="band" x="1267" y="65" width="21" height="902"/>
<rect class="band" x="1890" y="65" width="19" height="902"/>
<rect class="band" x="2022" y="65" width="20" height="902"/>
<rect class="band" x="2070" y="65" width="20" height="902"/>
<rect class="band" x="1556" y="65" width="21" height="310"/>
</g>

<g id="vlines">
<path d="M8 65V967M260.5 65V967" stroke="#a4a4e6" stroke-width="4" opacity=".85"/>
<path d="M1190 65V967" stroke="#a9d18e" stroke-width="3"/>
<path d="M1828.5 120V1027" stroke="#3cb371" stroke-width="3"/>
</g>

<g id="annotations">
<rect class="dash" x="434" y="541" width="674" height="136" rx="55" ry="65"/>
<rect x="612" y="668" width="340" height="22" fill="#fff"/>
<text class="j" x="616" y="688" font-size="25" fill="#ff6a00" textLength="333">ヤナギ林により樹林増加傾向</text>
<rect class="dash" x="1010" y="923" width="534" height="85" rx="35" ry="30"/>
<rect x="1040" y="999" width="206" height="27" fill="#fff"/>
<text class="j" x="1042" y="1022" font-size="25" fill="#ff6a00" textLength="201">自然裸地減少傾向</text>
<g id="updown4"><path class="arr" d="M337 595V538M332 553L337 538L342 553M337 610V666M332 651L337 666L342 651"/><text class="j ud" x="285" y="590">増加</text><text class="j ud" x="285" y="626">減少</text></g>
<g id="updown5"><path class="arr" d="M267 893V828M262 843L267 828L272 843M267 900V956M262 941L267 956L272 941"/><text class="j ud" x="214" y="878">増加</text><text class="j ud" x="214" y="917">減少</text></g>
<g id="legend4"><rect x="51" y="677" width="540" height="60" fill="none" stroke="#000" stroke-width="3"/><rect x="98" y="699" width="15" height="15" fill="#ff0000"/><rect x="297" y="699" width="15" height="15" fill="#5b9bd5"/><rect x="464" y="699" width="15" height="15" fill="#ffc000"/><g class="j" font-size="23" fill="#404040"><text x="119" y="715" textLength="133">ハリエンジュ</text><text x="317" y="715" textLength="102">ヤナギ林</text><text x="486" y="715" textLength="74">その他</text></g></g>
<g id="legend5"><rect x="448" y="776" width="258" height="62" fill="#fff" stroke="#a6a6a6" stroke-width="1.5"/><text class="j" x="577" y="805" font-size="17" fill="#222" text-anchor="middle">＜凡例＞</text><rect x="514" y="812" width="13" height="14" fill="#f79646"/><text class="j" x="539" y="826" font-size="17" fill="#222" textLength="103">自然裸地面積</text></g>
<g id="smalllabel"><rect x="11" y="813" width="80" height="14" fill="#bdd7ee"/><text class="j" x="14" y="824" font-size="9" fill="#777">自然裸地 (H4-H23)</text></g>
</g>

<g id="selection-frames" fill="none">
<path class="pdot" d="M1377 33H1622M1377 33V1025M1622 33V1025M2187 430V1040M2219 430V1040"/>
<use xlink:href="#rA" href="#rA" stroke="#f00" stroke-width="7"/><use xlink:href="#rA" href="#rA" stroke="#fff" stroke-width="2"/>
<use xlink:href="#rB" href="#rB" stroke="#f00" stroke-width="7"/><use xlink:href="#rB" href="#rB" stroke="#fff" stroke-width="2"/>
<use xlink:href="#rC" href="#rC" stroke="#f00" stroke-width="7"/><use xlink:href="#rC" href="#rC" stroke="#fff" stroke-width="2"/>
<use xlink:href="#rD" href="#rD" stroke="#f00" stroke-width="7"/><use xlink:href="#rD" href="#rD" stroke="#fff" stroke-width="2"/>
<use xlink:href="#rE" href="#rE" stroke="#6f9fae" stroke-width="6"/><use xlink:href="#rE" href="#rE" stroke="#fff" stroke-width="2"/>
<use xlink:href="#rF" href="#rF" stroke="#6f9fae" stroke-width="6"/><use xlink:href="#rF" href="#rF" stroke="#fff" stroke-width="2"/>
</g>

<g id="down-arrows" opacity=".9">
<rect x="1479" y="432" width="30" height="106" fill="url(#gs)"/><path d="M1465 538H1523L1494 566Z" fill="url(#gh)"/>
<rect x="1479" y="720" width="30" height="100" fill="url(#gs)"/><path d="M1465 820H1523L1494 848Z" fill="url(#gh)"/>
<rect x="1479" y="980" width="30" height="20" fill="url(#gs)"/><path d="M1462 1000H1526L1494 1027Z" fill="url(#gh)"/>
<rect x="2189" y="432" width="27" height="103" fill="url(#gs)"/><path d="M2178 535H2223L2202 563Z" fill="url(#gh)"/>
<rect x="2189" y="745" width="27" height="72" fill="url(#gs)"/><path d="M2178 817H2223L2202 845Z" fill="url(#gh)"/>
<rect x="2189" y="998" width="27" height="15" fill="url(#gs)"/><path d="M2178 1013H2223L2202 1042Z" fill="url(#gh)"/>
</g>

<g id="callout-tree">
<rect x="1296" y="678" width="190" height="52" fill="#bfbfbf"/>
<rect x="1291" y="673" width="190" height="52" fill="#fff" stroke="#e0509a" stroke-width="2.5"/>
<text class="j" x="1316" y="705" font-size="22" fill="#111" textLength="137">樹林増加傾向</text>
</g>

<g id="up-arrows">
<path class="up" d="M1269.5 969L1292 992H1283V1087H1256V992H1247Z"/>
<path class="up" d="M1568 969L1590.5 992H1581.5V1045H1554.5V992H1545.5Z"/>
<path class="up" d="M1893.5 970L1916 993H1907V1088H1880V993H1871Z"/>
<path class="up" d="M2029.5 969L2052 992H2043V1087H2016V992H2007Z"/>
<path class="up" d="M2079 969L2101.5 992H2092.5V1090H2065.5V992H2056.5Z"/>
<g transform="rotate(-90)" class="j"><text class="upt" dominant-baseline="central"><tspan x="-1033" y="1269.5">大曲橋観測所</tspan><tspan x="-1036" y="1893.5">大久保堰</tspan><tspan x="-1034" y="2029.5">湯沢統合堰</tspan></text><text class="upt" dominant-baseline="central" text-anchor="start" font-size="18"><tspan x="-1040" y="1568">頭首工</tspan><tspan x="-1045" y="2079">頭首工</tspan></text></g>
</g>

<g id="callout-select1">
<rect x="1386" y="1030" width="229" height="80" fill="#a6a6a6"/>
<rect x="1381" y="1025" width="229" height="82" fill="#ffffcc" stroke="#e8479a" stroke-width="2.5"/>
<text class="j call" x="1496" y="1055" textLength="161">自然裸地面積が</text>
<text class="j call" x="1494" y="1083" textLength="114">減少⇒選定</text>
</g>
<g id="callout-select2">
<rect x="2045" y="1038" width="185" height="52" fill="#a6a6a6"/>
<rect x="2040" y="1033" width="190" height="50" fill="#ffffcc" stroke="#e8479a" stroke-width="2.5"/>
<text class="j call" x="2136" y="1064" textLength="70">⇒選定</text>
</g>

<g id="section-labels" class="j">
<rect x="5" y="66" width="364" height="39" fill="#0000ff"/><text class="bl" x="29" y="95.5" textLength="313">安定ワンド・たまり右岸</text>
<rect x="4" y="219" width="363" height="40" fill="#0000ff"/><text class="bl" x="28" y="249.5" textLength="315">安定ワンド・たまり左岸</text>
<rect x="7" y="370" width="218" height="42" fill="#0000ff"/><text class="bl" x="31" y="400.5" textLength="170">旧ワンド位置</text>
<rect x="5" y="433" width="378" height="40" fill="#0000ff"/><text class="bl" x="27" y="464.5" textLength="312">樹林面積変化（H4⇒H23)</text>
<rect x="4" y="773" width="436" height="41" fill="#0000ff"/><text class="bl" x="28" y="803" textLength="368">自然裸地面積変化（H4⇒H23)</text>
</g>
</svg>
